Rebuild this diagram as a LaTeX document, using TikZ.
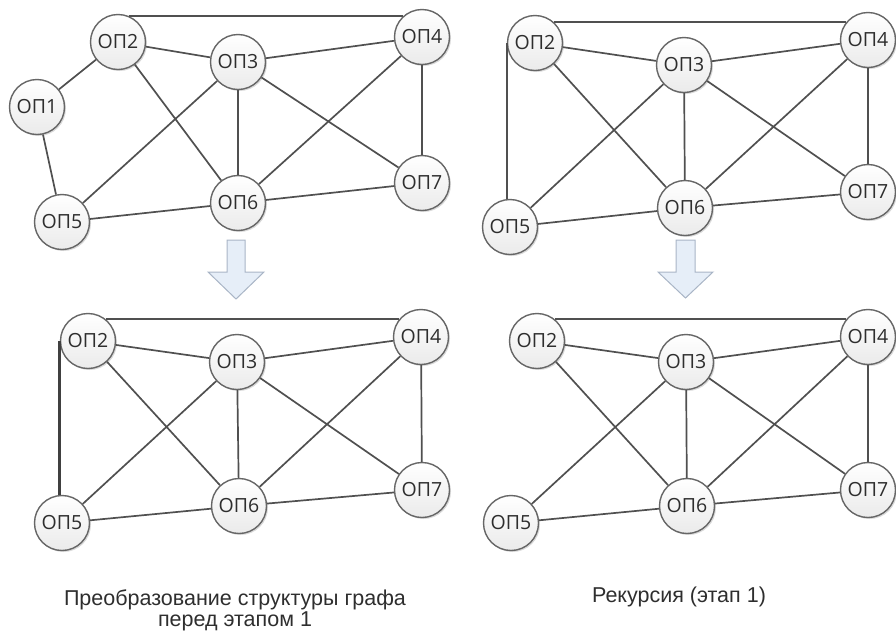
\documentclass[tikz,border=0pt]{standalone}
\usepackage{fontspec}
\setmainfont{Liberation Sans}
\newfontfamily\lblfont{Open Sans}
\usetikzlibrary{shadows}
\definecolor{edgecol}{HTML}{505050}
\definecolor{nodeline}{HTML}{666666}
\definecolor{arrfill}{HTML}{E6EEF8}
\definecolor{arrline}{HTML}{A9B5C6}
\definecolor{txtcol}{HTML}{2E2E2E}
\tikzset{
  op/.style={circle, minimum size=55pt, inner sep=0pt, draw=nodeline, line width=1.4pt,
    top color=white, bottom color=black!8,
    drop shadow={shadow xshift=1.5pt, shadow yshift=-1.5pt, opacity=0.15, fill=black},
    font=\lblfont\fontsize{19.5}{21}\selectfont, text=txtcol},
  link/.style={draw=edgecol, line width=1.7pt},
  thicklink/.style={draw=edgecol!80!black, line width=2.8pt},
  bigarrow/.style={fill=arrfill, draw=arrline, line width=1pt, line join=miter},
  caption/.style={font=\fontsize{21.5}{22}\selectfont, text=txtcol, anchor=base}
}
\begin{document}
\begin{tikzpicture}[x=1pt,y=-1pt]
\useasboundingbox (0,0) rectangle (896,633);
% ---------- Panel 1 ----------
\node[op] (a1) at (37,107) {ОП1};
\node[op] (a2) at (118,42) {ОП2};
\node[op] (a3) at (238,62) {ОП3};
\node[op] (a4) at (422,37) {ОП4};
\node[op] (a5) at (62,222) {ОП5};
\node[op] (a6) at (238,203) {ОП6};
\node[op] (a7) at (422,183) {ОП7};
\path[link] (a1) -- (a2) (a1) -- (a5) (a2) -- (a3) (a2) -- (a6)
  (a3) -- (a4) (a3) -- (a5) (a3) -- (a6) (a3) -- (a7)
  (a4) -- (a6) (a4) -- (a7) (a5) -- (a6) (a6) -- (a7);
\path[link] (a2.68) -- (a2.68 -| a4.132);
% ---------- Panel 2 ----------
\node[op] (b2) at (535,43) {ОП2};
\node[op] (b3) at (684,65) {ОП3};
\node[op] (b4) at (868,40) {ОП4};
\node[op] (b5) at (510,227) {ОП5};
\node[op] (b6) at (685,208) {ОП6};
\node[op] (b7) at (868,192) {ОП7};
\path[link] (b2) -- (b3) (b2) -- (b6)
  (b3) -- (b4) (b3) -- (b5) (b3) -- (b6) (b3) -- (b7)
  (b4) -- (b6) (b4) -- (b7) (b5) -- (b6) (b6) -- (b7);
\path[link] (b2.48) -- (b2.48 -| b4.141);
\path[link] (b2.west) -- (b2.west |- b5.north);
% ---------- Panel 3 ----------
\node[op] (c2) at (88,341) {ОП2};
\node[op] (c3) at (237,362) {ОП3};
\node[op] (c4) at (421,337) {ОП4};
\node[op] (c5) at (62,523) {ОП5};
\node[op] (c6) at (239,506) {ОП6};
\node[op] (c7) at (422,490) {ОП7};
\path[link] (c2) -- (c3) (c2) -- (c6)
  (c3) -- (c4) (c3) -- (c5) (c3) -- (c6) (c3) -- (c7)
  (c4) -- (c6) (c4) -- (c7) (c5) -- (c6) (c6) -- (c7);
\path[link] (c2.51) -- (c2.51 -| c4.141);
\path[thicklink] (c2.west) -- (c2.west |- c5.north);
% ---------- Panel 4 ----------
\node[op] (d2) at (537,341) {ОП2};
\node[op] (d3) at (686,362) {ОП3};
\node[op] (d4) at (868,337) {ОП4};
\node[op] (d5) at (511,523) {ОП5};
\node[op] (d6) at (687,506) {ОП6};
\node[op] (d7) at (868,490) {ОП7};
\path[link] (d2) -- (d3) (d2) -- (d6)
  (d3) -- (d4) (d3) -- (d5) (d3) -- (d6) (d3) -- (d7)
  (d4) -- (d6) (d4) -- (d7) (d5) -- (d6) (d6) -- (d7);
\path[link] (d2.51) -- (d2.51 -| d4.141);
% ---------- Arrows ----------
\draw[bigarrow] (227,240) -- (245,240) -- (245,272) -- (264,272) -- (236,299)
  -- (208,272) -- (227,272) -- cycle;
\draw[bigarrow] (676,240) -- (695,240) -- (695,272) -- (713,272) -- (685.5,298)
  -- (658,272) -- (676,272) -- cycle;
% ---------- Captions ----------
\node[caption] (cap1a) at (235,605) {Преобразование структуры графа};
\node[caption] (cap1b) at (235,626) {перед этапом 1};
\node[caption] (cap2) at (679,602) {Рекурсия (этап 1)};
\end{tikzpicture}
\end{document}
